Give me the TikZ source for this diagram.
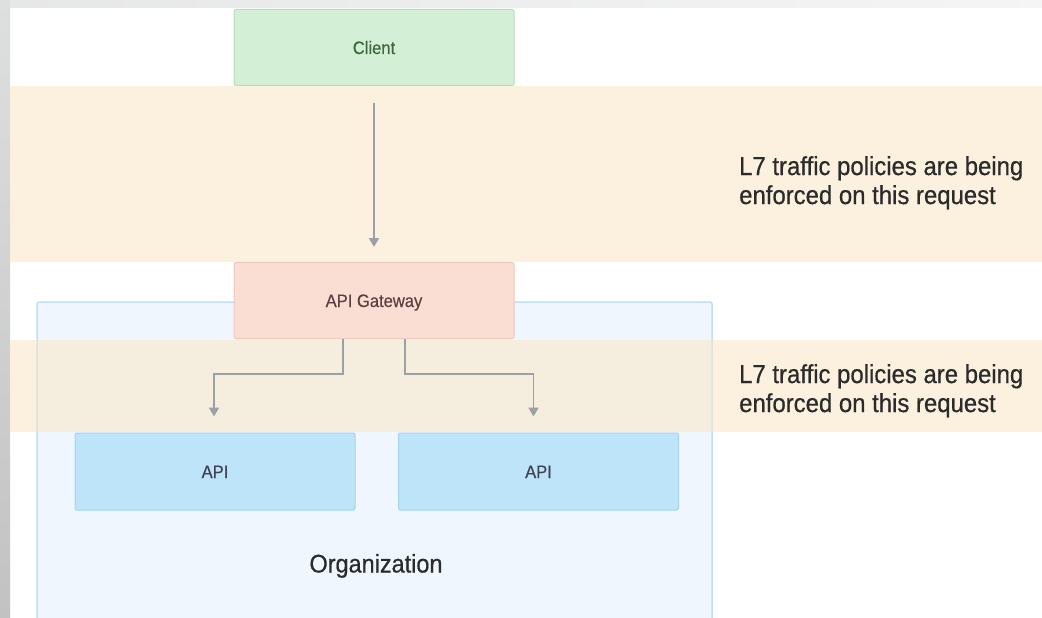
\documentclass[tikz,border=0pt]{standalone}
\usepackage{fontspec}
\setmainfont{Liberation Sans}[FakeStretch=0.92]
\newfontfamily\notefont{Liberation Sans}[FakeStretch=0.92, FakeBold=0.6]
\newfontfamily\boxfont{Liberation Sans}[FakeStretch=0.92, FakeBold=0.4]
\usetikzlibrary{arrows.meta}

\definecolor{frameA}{HTML}{DEDFDF}
\definecolor{frameB}{HTML}{C2C2C2}
\definecolor{frameTop}{HTML}{E6E7E7}
\definecolor{bandfill}{HTML}{FBE6C4}
\definecolor{orgfill}{HTML}{EFF6FD}
\definecolor{orgline}{HTML}{BFE0F5}
\definecolor{clientfill}{HTML}{D3F0D7}
\definecolor{clientline}{HTML}{B6DDBD}
\definecolor{gwfill}{HTML}{FADDD3}
\definecolor{gwline}{HTML}{EFC9BD}
\definecolor{apifill}{HTML}{BEE4F9}
\definecolor{apiline}{HTML}{A7D2EE}
\definecolor{linkgrey}{HTML}{9CA1A6}
\definecolor{textdark}{HTML}{2B2B2B}

\tikzset{
  boxbase/.style={rectangle, rounded corners=2pt, line width=1pt,
    minimum width=280pt, minimum height=76pt, inner sep=0pt,
    text height=13pt, text depth=0pt,
    font=\boxfont\fontsize{18}{20}\selectfont},
  clientbox/.style={boxbase, fill=clientfill, draw=clientline, text=green!20!black!75},
  gwbox/.style={boxbase, fill=gwfill, draw=gwline, text=red!15!black!75},
  apibox/.style={boxbase, fill=apifill, draw=apiline, minimum height=77pt, text=blue!10!black!75},
  band/.style={fill=bandfill, fill opacity=0.55, draw=none},
  note/.style={anchor=north west, align=left, text=textdark, inner sep=0pt,
    font=\notefont\fontsize{26}{29}\selectfont},
  link/.style={draw=linkgrey, line width=1.9pt,
    -{Triangle[length=9pt,width=10pt]}},
}

\begin{document}
\begin{tikzpicture}[x=1pt,y=-1pt]
  \useasboundingbox (0,0) rectangle (1042,618);
  \fill[white] (0,0) rectangle (1042,618);

  % outer frame strips
  \shade[top color=frameA, bottom color=frameB] (0,0) rectangle (10,618);
  \shade[left color=frameTop, right color=white!96!black] (10,0) rectangle (1042,8);

  % organization container
  \draw[fill=orgfill, draw=orgline, line width=1.5pt, rounded corners=2pt]
    (37,302) rectangle (712,640);
  \node[font=\notefont\fontsize{25.5}{28}\selectfont, text=textdark,
        text height=19pt, text depth=0pt, inner sep=0pt] (org) at (376,563) {Organization};

  % policy bands
  \fill[band] (10,86) rectangle (1042,262);
  \fill[band] (10,340) rectangle (1042,432);

  \node[note] (note1) at (739,156) {L7 traffic policies are being\\enforced on this request};
  \node[note] (note2) at (739,364) {L7 traffic policies are being\\enforced on this request};

  % components
  \node[clientbox] (client) at (374,47.5) {Client};
  \node[gwbox] (gw) at (374,300.5) {API Gateway};
  \node[apibox] (api1) at (215,471.5) {API};
  \node[apibox] (api2) at (538.5,471.5) {API};

  % request flow
  \coordinate (cs) at (374,103);
  \coordinate (ce) at (374,247);
  \draw[link] (cs) -- (ce);

  \coordinate (gl) at ([xshift=-31pt]gw.south);
  \coordinate (gr) at ([xshift=31pt]gw.south);
  \coordinate (al) at ([xshift=-1pt,yshift=16pt]api1.north);
  \coordinate (ar) at ([xshift=-5pt,yshift=16pt]api2.north);
  \draw[link] (gl) -- ++(0,35) -| (al);
  \draw[link] (gr) -- ++(0,35) -| (ar);
\end{tikzpicture}
\end{document}
